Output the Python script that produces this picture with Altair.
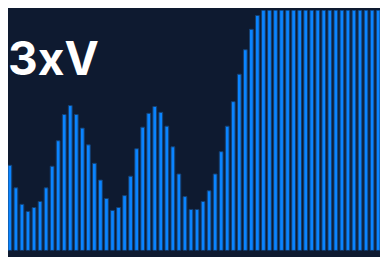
import altair as alt
import pandas as pd

# Bar values (percent of the full scale); bars from index 42 on are at the top of the scale
values = [
    35.1, 25.8, 19.0, 16.1, 17.7, 20.2, 25.8, 34.7, 45.2, 56.0,
    59.7, 56.0, 50.4, 43.5, 35.9, 29.0, 21.4, 16.5, 17.7, 22.6,
    30.6, 41.9, 50.8, 56.5, 59.3, 56.9, 51.2, 42.7, 31.5, 22.2,
    16.9, 16.9, 20.2, 24.6, 31.5, 40.7, 51.2, 61.3, 72.6, 82.7,
    91.1, 96.8, 100, 100, 100, 100, 100, 100, 100, 100,
    100, 100, 100, 100, 100, 100, 100, 100, 100, 100,
    100, 100,
]
index = list(range(len(values)))
label = ["3xV"]

bars_df = pd.DataFrame({"i": index, "v": values})
label_df = pd.DataFrame({"t": label})

bars = alt.Chart(bars_df).mark_bar(
    color="#0a84ff", stroke="#17406f", strokeWidth=1, clip=True
).encode(
    x=alt.X("i:O", scale=alt.Scale(paddingInner=0.38, paddingOuter=0), axis=None),
    y=alt.Y("v:Q", scale=alt.Scale(domain=[0, 98.8], nice=False), axis=None),
)

text = alt.Chart(label_df).mark_text(
    align="left",
    baseline="alphabetic",
    font="Inter",
    fontSize=47,
    fontWeight="bold",
    color="#ffffff",
).encode(
    x=alt.value(0),
    y=alt.value(66),
    text="t:N",
)

chart = (
    alt.layer(bars, text)
    .properties(
        width=380,
        height=245,
        autosize=alt.AutoSizeParams(type="none"),
        padding={"left": 0, "top": 0, "right": 0, "bottom": 4},
    )
    .configure(background="#0e1a30")
    .configure_view(stroke=None)
)

chart.save("out.html", embed_options={"renderer": "svg", "actions": False})
